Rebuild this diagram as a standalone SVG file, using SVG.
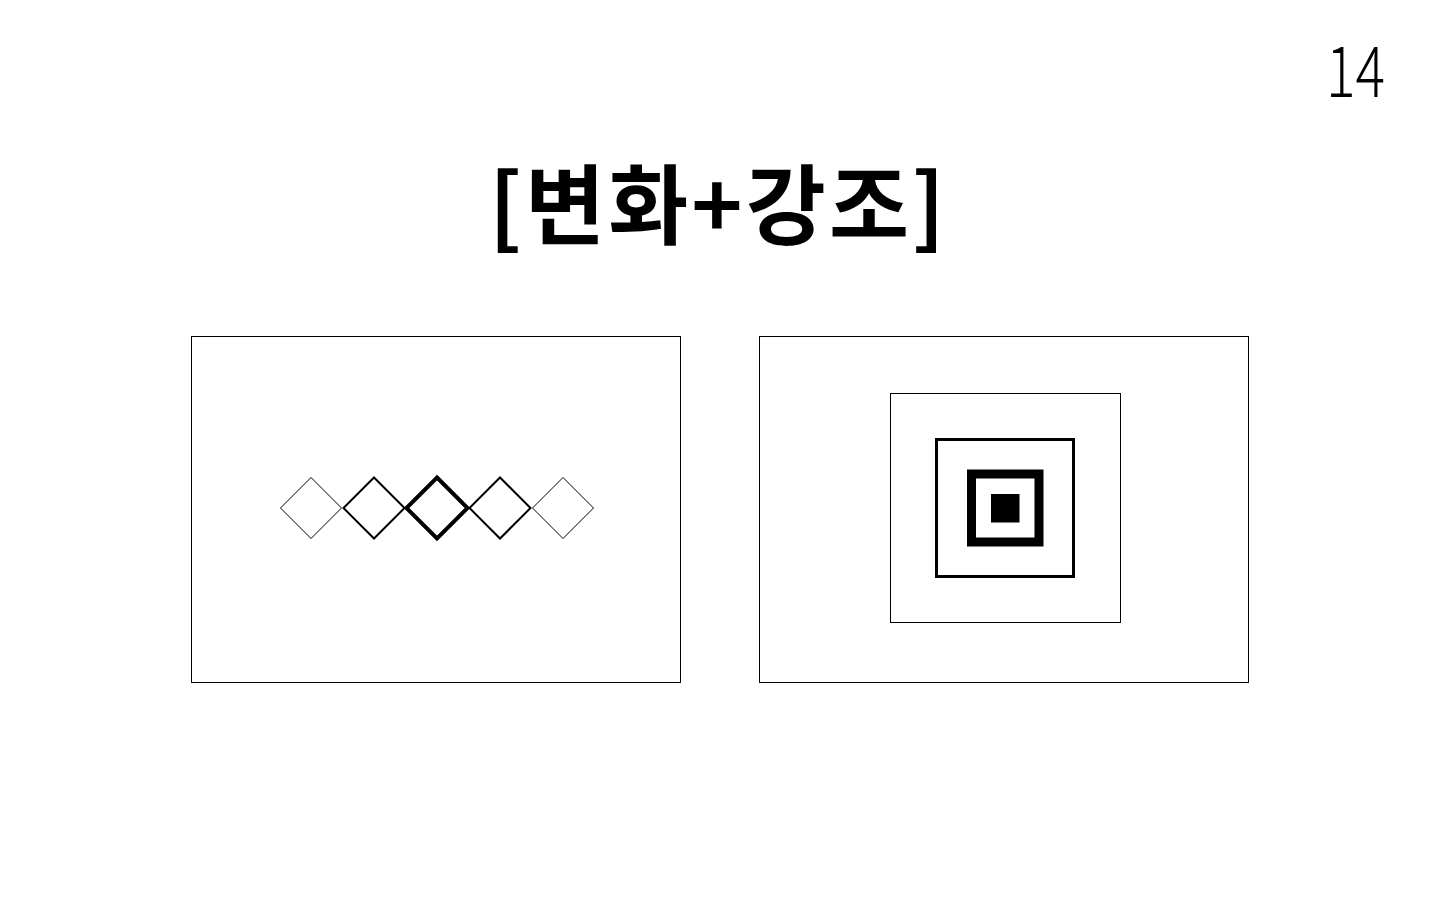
<svg xmlns="http://www.w3.org/2000/svg" width="1440" height="900" viewBox="0 0 1440 900">
<style>
.frame{fill:none;stroke:#000;stroke-width:1}
.d{fill:none;stroke:#000}
.title{font-family:"Noto Sans CJK KR","Noto Sans",sans-serif;font-weight:700;font-size:87px;fill:#000}
.num{font-family:"Noto Sans CJK KR","Noto Sans",sans-serif;font-weight:300;font-size:70px;fill:#000}
</style>
<rect width="1440" height="900" fill="#fff"/>
<g id="page-number"><text class="num" x="1326" y="97" textLength="59" lengthAdjust="spacingAndGlyphs">14</text></g>
<g id="title"><text class="title" x="489" y="238" textLength="456" lengthAdjust="spacing">[변화+강조]</text></g>
<g id="panel-variation">
<rect class="frame" x="191.5" y="336.5" width="489" height="346"/>
<path class="d" stroke-width="1" d="M311 477.5 L341.5 508 L311 538.5 L280.5 508 Z"/>
<path class="d" stroke-width="2" d="M374 477.5 L404.5 508 L374 538.5 L343.5 508 Z"/>
<path class="d" stroke-width="4" d="M437 477.5 L467.5 508 L437 538.5 L406.5 508 Z"/>
<path class="d" stroke-width="2" d="M500 477.5 L530.5 508 L500 538.5 L469.5 508 Z"/>
<path class="d" stroke-width="1" d="M563 477.5 L593.5 508 L563 538.5 L532.5 508 Z"/>
</g>
<g id="panel-emphasis">
<rect class="frame" x="759.5" y="336.5" width="489" height="346"/>
<rect class="frame" x="890.5" y="393.5" width="230" height="229"/>
<rect fill="none" stroke="#000" stroke-width="3" x="936.5" y="439.5" width="137" height="137"/>
<rect fill="none" stroke="#000" stroke-width="9" x="971.5" y="474" width="67.5" height="68"/>
<rect fill="#000" x="991" y="494" width="28.5" height="28.5"/>
</g>
</svg>
